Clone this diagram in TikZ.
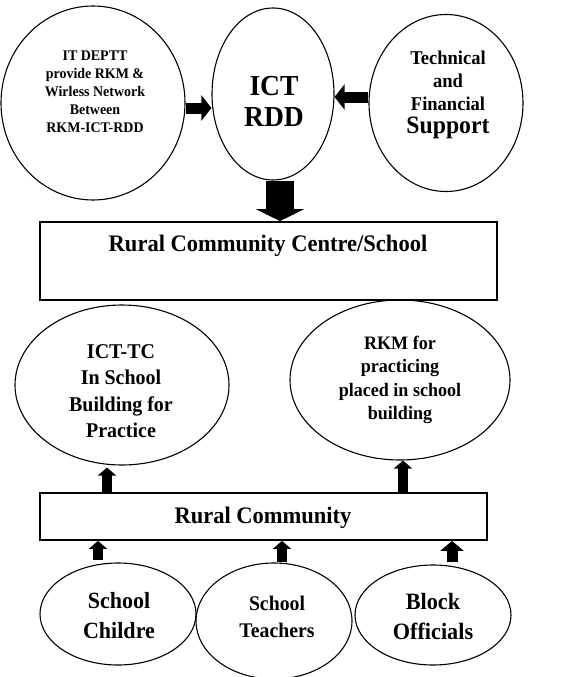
\documentclass[tikz,border=0pt]{standalone}
\usepackage{fontspec}
\setmainfont{Liberation Serif}[FakeStretch=0.95]
\usetikzlibrary{arrows.meta,shapes.geometric}
\begin{document}
\begin{tikzpicture}[x=1pt,y=-1pt,
  ell/.style={draw, ellipse, line width=1.1pt, inner sep=0pt},
  boxr/.style={draw, rectangle, line width=1.8pt, inner sep=0pt},
  txt/.style={align=center, font=\bfseries, inner sep=0pt},
  harrow/.style={line width=11pt, -{Triangle[width=25pt,length=10pt]}},
  darrow/.style={line width=28pt, -{Triangle[width=48pt,length=12pt]}},
  uarrow/.style={line width=10pt, -{Triangle[width=18pt,length=8pt]}},
  barrow/.style={line width=11pt, -{Triangle[width=23pt,length=10pt]}}]
\useasboundingbox[fill=white] (0,0) rectangle (575,677);
% top row
\node[ell, minimum width=184pt, minimum height=194pt] (it) at (93,103) {};
\node[ell, minimum width=122pt, minimum height=172pt] (ict) at (273,94) {};
\node[ell, minimum width=154pt, minimum height=177pt] (tech) at (446,103) {};
\node[txt, font=\bfseries\fontsize{14.7}{18}\selectfont] (itt) at (95,92)
  {IT DEPTT\\provide RKM \&\\Wirless Network\\Between\\RKM-ICT-RDD};
\node[txt, font=\bfseries\fontsize{29}{31}\selectfont] (ictt) at (274,101) {ICT\\RDD};
\node[txt, font=\bfseries\fontsize{19.5}{23}\selectfont] (techt) at (448,95)
  {Technical\\and\\Financial\\{\fontsize{25}{28}\selectfont Support}};
% box 1
\node[boxr, minimum width=457pt, minimum height=78pt] (b1) at (268.5,261) {};
\node[txt, font=\bfseries\fontsize{23.7}{26}\selectfont] (b1t) at (268,246) {Rural Community Centre/School};
% middle ellipses
\node[ell, minimum width=214pt, minimum height=160pt] (tc) at (122,385) {};
\node[ell, minimum width=220pt, minimum height=160pt] (rkm) at (400,380) {};
\node[txt, font=\bfseries\fontsize{21}{26.5}\selectfont] (tct) at (121,391)
  {ICT-TC\\In School\\Building for\\Practice};
\node[txt, font=\bfseries\fontsize{19}{23.5}\selectfont] (rkmt) at (400,380)
  {RKM for\\practicing\\placed in school\\building};
% box 2
\node[boxr, minimum width=447pt, minimum height=47pt] (b2) at (263.5,516.5) {};
\node[txt, font=\bfseries\fontsize{23.7}{26}\selectfont] (b2t) at (263,518) {Rural Community};
% bottom ellipses
\node[ell, minimum width=156pt, minimum height=102pt] (sc) at (118,614) {};
\node[ell, minimum width=156pt, minimum height=116pt] (st) at (274,621) {};
\node[ell, minimum width=156pt, minimum height=100pt] (bo) at (433,615) {};
\node[txt, font=\bfseries\fontsize{23.2}{30}\selectfont] (sct) at (119,616) {School\\Childre};
\node[txt, font=\bfseries\fontsize{20.8}{27}\selectfont] (stt) at (277,617) {School\\Teachers};
\node[txt, font=\bfseries\fontsize{23.4}{30}\selectfont] (bot) at (433,616) {Block\\Officials};
% arrows
\draw[harrow] (it.east |- 0,108) -- (ict.west |- 0,108);
\draw[harrow] (tech.west |- 0,97) -- (ict.east |- 0,97);
\draw[darrow] ([xshift=7pt]ict.south) -- ([xshift=7pt]ict.south |- b1.north);
\draw[uarrow] ([xshift=-15pt]tc.south |- b2.north) -- ([xshift=-15pt,yshift=-2pt]tc.south);
\draw[uarrow] ([xshift=3pt]rkm.south |- b2.north) -- ([xshift=3pt]rkm.south);
\draw[uarrow] ([xshift=-20pt,yshift=2pt]sc.north) -- ([xshift=-20pt]sc.north |- b2.south);
\draw[uarrow] ([xshift=8pt]st.north) -- ([xshift=8pt]st.north |- b2.south);
\draw[barrow] ([xshift=19pt,yshift=2pt]bo.north) -- ([xshift=19pt]bo.north |- b2.south);
\end{tikzpicture}
\end{document}
